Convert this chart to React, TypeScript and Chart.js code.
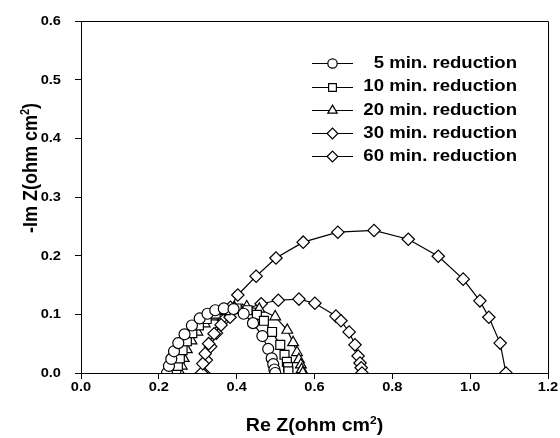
import React, { useEffect, useRef } from 'react';
import { Chart, registerables } from 'chart.js';

Chart.register(...registerables);

// ---- data ----
const reZ5 = [0.221, 0.226, 0.232, 0.239, 0.250, 0.266, 0.285, 0.305, 0.325, 0.345, 0.367, 0.392, 0.418, 0.442, 0.466, 0.481, 0.490, 0.494, 0.497, 0.499];
const imZ5 = [0.000, 0.012, 0.024, 0.037, 0.051, 0.066, 0.081, 0.093, 0.101, 0.107, 0.110, 0.109, 0.101, 0.085, 0.063, 0.041, 0.025, 0.015, 0.006, 0.000];

const reZ10 = [0.245, 0.249, 0.254, 0.261, 0.272, 0.286, 0.303, 0.323, 0.346, 0.372, 0.400, 0.428, 0.452, 0.470, 0.491, 0.512, 0.523, 0.529, 0.532, 0.533];
const imZ10 = [0.000, 0.012, 0.025, 0.039, 0.054, 0.068, 0.081, 0.092, 0.101, 0.107, 0.110, 0.107, 0.099, 0.089, 0.070, 0.048, 0.031, 0.019, 0.010, 0.003];

const reZ20 = [0.255, 0.259, 0.264, 0.272, 0.284, 0.299, 0.318, 0.340, 0.366, 0.395, 0.426, 0.458, 0.499, 0.530, 0.545, 0.555, 0.560, 0.565, 0.567, 0.570];
const imZ20 = [0.000, 0.012, 0.025, 0.040, 0.055, 0.070, 0.084, 0.096, 0.105, 0.111, 0.113, 0.109, 0.096, 0.073, 0.052, 0.035, 0.023, 0.014, 0.006, 0.000];

const reZ30 = [0.310, 0.313, 0.319, 0.328, 0.342, 0.360, 0.383, 0.415, 0.463, 0.507, 0.560, 0.601, 0.655, 0.668, 0.689, 0.704, 0.712, 0.717, 0.720, 0.722];
const imZ30 = [0.000, 0.016, 0.033, 0.050, 0.067, 0.082, 0.095, 0.107, 0.118, 0.124, 0.126, 0.119, 0.097, 0.089, 0.070, 0.048, 0.029, 0.017, 0.009, 0.000];

const reZ60 = [0.315, 0.322, 0.333, 0.348, 0.366, 0.384, 0.403, 0.450, 0.501, 0.571, 0.660, 0.753, 0.841, 0.918, 0.982, 1.025, 1.048, 1.077, 1.092];
const imZ60 = [0.000, 0.022, 0.045, 0.068, 0.090, 0.112, 0.133, 0.165, 0.196, 0.223, 0.240, 0.243, 0.228, 0.199, 0.160, 0.123, 0.095, 0.051, 0.000];

const seriesLabels = ['5 min. reduction', '10 min. reduction', '20 min. reduction', '30 min. reduction', '60 min. reduction'];
const seriesRe = [reZ5, reZ10, reZ20, reZ30, reZ60];
const seriesIm = [imZ5, imZ10, imZ20, imZ30, imZ60];
const seriesMarkers = ['circle', 'rect', 'triangle', 'rectRot', 'rectRot'];
const markerRadius = [5.5, 6.3, 6.2, 6.2, 6.2];

const xTickLabels = ['0.0', '0.2', '0.4', '0.6', '0.8', '1.0', '1.2'];
const yTickLabels = ['0.0', '0.1', '0.2', '0.3', '0.4', '0.5', '0.6'];
const xTitle = ['Re Z(ohm cm', '2', ')'];
const yTitle = ['-Im Z(ohm cm', '2', ')'];

const FONT = '"Liberation Sans", Arial, sans-serif';

function drawMarker(ctx: CanvasRenderingContext2D, style: string, x: number, y: number, r: number) {
  ctx.beginPath();
  if (style === 'circle') {
    ctx.arc(x, y, r, 0, Math.PI * 2);
  } else if (style === 'rect') {
    const s = Math.SQRT1_2 * r;
    ctx.rect(x - s, y - s, 2 * s, 2 * s);
  } else if (style === 'triangle') {
    let rad = 0;
    ctx.moveTo(x + Math.sin(rad) * r, y - Math.cos(rad) * r);
    rad += (2 * Math.PI) / 3;
    ctx.lineTo(x + Math.sin(rad) * r, y - Math.cos(rad) * r);
    rad += (2 * Math.PI) / 3;
    ctx.lineTo(x + Math.sin(rad) * r, y - Math.cos(rad) * r);
    ctx.closePath();
  } else {
    ctx.moveTo(x - r, y);
    ctx.lineTo(x, y - r);
    ctx.lineTo(x + r, y);
    ctx.lineTo(x, y + r);
    ctx.closePath();
  }
  ctx.fillStyle = '#fff';
  ctx.fill();
  ctx.strokeStyle = '#000';
  ctx.lineWidth = 1.2;
  ctx.stroke();
}

function drawText(ctx: CanvasRenderingContext2D, text: string, x: number, y: number, size: number, align: CanvasTextAlign, sx: number) {
  ctx.save();
  ctx.translate(x, y);
  ctx.scale(sx, 1);
  ctx.font = `bold ${size}px ${FONT}`;
  ctx.textAlign = align;
  ctx.textBaseline = 'middle';
  ctx.fillStyle = '#000';
  ctx.fillText(text, 0, 0);
  ctx.restore();
}

// draws title with superscript centered at origin of current transform (horizontal text)
function drawTitle(ctx: CanvasRenderingContext2D, parts: string[], size: number) {
  const supSize = Math.round(size * 0.62);
  ctx.font = `bold ${size}px ${FONT}`;
  const w1 = ctx.measureText(parts[0]).width;
  const w3 = ctx.measureText(parts[2]).width;
  ctx.font = `bold ${supSize}px ${FONT}`;
  const w2 = ctx.measureText(parts[1]).width;
  const total = w1 + w2 + w3;
  let x = -total / 2;
  ctx.fillStyle = '#000';
  ctx.textAlign = 'left';
  ctx.textBaseline = 'alphabetic';
  const base = size * 0.36;
  ctx.font = `bold ${size}px ${FONT}`;
  ctx.fillText(parts[0], x, base);
  x += w1;
  ctx.font = `bold ${supSize}px ${FONT}`;
  ctx.fillText(parts[1], x, base - size * 0.42);
  x += w2;
  ctx.font = `bold ${size}px ${FONT}`;
  ctx.fillText(parts[2], x, base);
}

const decorPlugin = {
  id: 'decor',
  afterDraw(chart: any) {
    const ctx: CanvasRenderingContext2D = chart.ctx;
    const area = chart.chartArea;
    const xs = chart.scales.x;
    const ys = chart.scales.y;
    ctx.save();
    // frame top & right
    ctx.strokeStyle = '#000';
    ctx.lineWidth = 1;
    ctx.beginPath();
    const t = Math.floor(area.top) + 0.5;
    const r = Math.floor(area.right) + 0.5;
    ctx.moveTo(Math.floor(area.left), t);
    ctx.lineTo(r, t);
    ctx.lineTo(r, Math.floor(area.bottom) + 1);
    ctx.stroke();

    // tick labels
    xTickLabels.forEach((lab) => {
      const px = xs.getPixelForValue(parseFloat(lab));
      drawText(ctx, lab, px, 388, 12.5, 'center', 1.17);
    });
    yTickLabels.forEach((lab) => {
      const py = ys.getPixelForValue(parseFloat(lab));
      drawText(ctx, lab, 61, py + 0.5, 12.5, 'right', 1.17);
    });

    // axis titles
    ctx.save();
    ctx.translate((area.left + area.right) / 2, 425);
    ctx.scale(1.09, 1);
    drawTitle(ctx, xTitle, 18);
    ctx.restore();

    ctx.save();
    ctx.translate(30, 168);
    ctx.rotate(-Math.PI / 2);
    ctx.scale(1, 1.1);
    drawTitle(ctx, yTitle, 18);
    ctx.restore();

    // legend
    seriesLabels.forEach((lab, i) => {
      const y = 63.3 + i * 23.2;
      ctx.beginPath();
      ctx.strokeStyle = '#000';
      ctx.lineWidth = 1.2;
      ctx.moveTo(312, Math.round(y) + 0.5);
      ctx.lineTo(353, Math.round(y) + 0.5);
      ctx.stroke();
      drawMarker(ctx, seriesMarkers[i], 332.5, Math.round(y) + 0.5, markerRadius[i] - 0.8);
      drawText(ctx, lab, 517, y + 0.5, 16, 'right', 1.16);
    });
    ctx.restore();
  },
};

export default function App() {
  const canvasRef = useRef<HTMLCanvasElement | null>(null);

  useEffect(() => {
    const canvas = canvasRef.current;
    if (!canvas) return;
    const datasets = seriesLabels.map((label, i) => ({
      label,
      data: seriesRe[i].map((x, j) => ({ x, y: seriesIm[i][j] })),
      showLine: true,
      borderColor: '#000',
      borderWidth: 1.2,
      pointStyle: seriesMarkers[i] as any,
      pointRadius: markerRadius[i],
      pointBackgroundColor: '#fff',
      pointBorderColor: '#000',
      pointBorderWidth: 1.2,
      tension: 0,
    }));

    const chart = new Chart(canvas, {
      type: 'scatter',
      data: { datasets },
      options: {
        animation: false,
        responsive: false,
        devicePixelRatio: 1,
        events: [],
        layout: { padding: { left: 0, right: 12, top: 21, bottom: 0 } },
        plugins: {
          legend: { display: false },
          tooltip: { enabled: false },
        },
        scales: {
          x: {
            type: 'linear',
            min: 0,
            max: 1.2,
            ticks: { display: false, stepSize: 0.2 },
            grid: { display: true, drawOnChartArea: false, drawTicks: true, tickLength: 6, color: '#000', lineWidth: 1 },
            border: { display: true, color: '#000', width: 1 },
            afterFit: (scale: any) => {
              scale.height = 65;
            },
          },
          y: {
            type: 'linear',
            min: 0,
            max: 0.6,
            ticks: { display: false, stepSize: 0.1 },
            grid: { display: true, drawOnChartArea: false, drawTicks: true, tickLength: 6, color: '#000', lineWidth: 1 },
            border: { display: true, color: '#000', width: 1 },
            afterFit: (scale: any) => {
              scale.width = 81;
            },
          },
        },
      },
      plugins: [decorPlugin],
    });
    return () => chart.destroy();
  }, []);

  return (
    <div style={{ position: 'absolute', left: 0, top: 0, width: 560, height: 438, background: '#fff' }}>
      <canvas ref={canvasRef} width={560} height={438} style={{ display: 'block', width: 560, height: 438 }} />
    </div>
  );
}
